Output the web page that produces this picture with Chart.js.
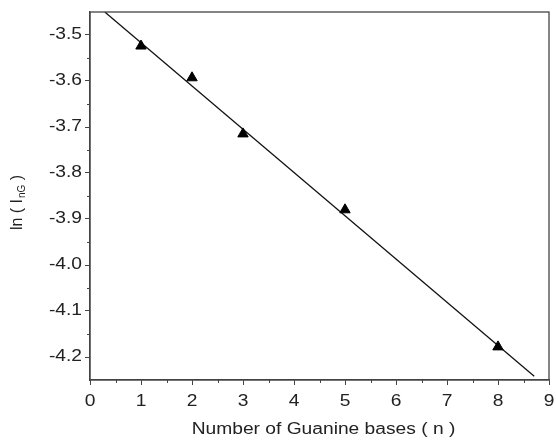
<!DOCTYPE html>
<html>
<head>
<meta charset="utf-8">
<script src="https://cdn.jsdelivr.net/npm/chart.js@4.4.0/dist/chart.umd.min.js"></script>
<style>
  html, body { margin: 0; padding: 0; background: #fff; }
  #wrap { width: 556px; height: 441px; }
</style>
</head>
<body>
<div id="wrap"><canvas id="chart" width="556" height="441"></canvas></div>
<script>
// measured points: number of G bases vs ln(I_nG)
const nBases = [1, 2, 3, 5, 8];
const lnI = [-3.524, -3.593, -3.715, -3.88, -4.178];

// linear fit line, ends
const fitX = [0.29, 8.71];
const fitY = [-3.45, -4.242];

const xTicks = [0, 1, 2, 3, 4, 5, 6, 7, 8, 9];
const yTicks = [-4.2, -4.1, -4.0, -3.9, -3.8, -3.7, -3.6, -3.5];

const FONT = '"Liberation Sans", Arial, sans-serif';
const INK = '#222';
const SX = 1.2; // the original figure is a bit stretched sideways

// draws text squeezed/stretched horizontally around its anchor
function wideText(ctx, txt, x, y, align) {
    const w = ctx.measureText(txt).width * SX;
    let left = x;
    if (align === 'center') left = x - w / 2;
    if (align === 'right') left = x - w;
    ctx.save();
    ctx.translate(left, y);
    ctx.scale(SX, 1);
    ctx.textAlign = 'left';
    ctx.fillText(txt, 0, 0);
    ctx.restore();
}

// frame, minor ticks, tick labels and axis titles
const framePlugin = {
    id: 'frame',
    afterDraw(chart) {
        const ctx = chart.ctx;
        const a = chart.chartArea;
        const xs = chart.scales.x, ys = chart.scales.y;
        ctx.save();
        ctx.strokeStyle = '#444';
        ctx.lineWidth = 1.3;
        ctx.strokeRect(a.left, a.top, a.right - a.left, a.bottom - a.top);

        // minor ticks halfway between majors
        ctx.lineWidth = 1;
        ctx.beginPath();
        for (let i = 0; i < xTicks.length - 1; i++) {
            const px = Math.round(xs.getPixelForValue((xTicks[i] + xTicks[i + 1]) / 2)) + 0.5;
            ctx.moveTo(px, a.bottom);
            ctx.lineTo(px, a.bottom + 3);
        }
        for (let i = 0; i < yTicks.length - 1; i++) {
            const py = Math.round(ys.getPixelForValue((yTicks[i] + yTicks[i + 1]) / 2)) + 0.5;
            ctx.moveTo(a.left, py);
            ctx.lineTo(a.left - 3, py);
        }
        ctx.stroke();

        // tick labels
        ctx.fillStyle = INK;
        ctx.font = '16px ' + FONT;
        ctx.textBaseline = 'middle';
        xTicks.forEach(v => wideText(ctx, String(v), xs.getPixelForValue(v), a.bottom + 22, 'center'));
        yTicks.forEach(v => wideText(ctx, v.toFixed(1), a.left - 8, ys.getPixelForValue(v), 'right'));

        // x title
        wideText(ctx, 'Number of Guanine bases ( n )', (a.left + a.right) / 2 + 4, 430, 'center');

        // y title with subscript
        ctx.translate(18, 203);
        ctx.rotate(-Math.PI / 2);
        ctx.textAlign = 'left';
        const p1 = 'ln ( I', sub = 'nG', p2 = ' )';
        ctx.font = '16px ' + FONT;
        const w1 = ctx.measureText(p1).width;
        const w3 = ctx.measureText(p2).width;
        ctx.font = '10px ' + FONT;
        const w2 = ctx.measureText(sub).width;
        let x0 = -(w1 + w2 + w3) / 2;
        ctx.font = '16px ' + FONT;
        ctx.fillText(p1, x0, 0);
        ctx.font = '10px ' + FONT;
        ctx.fillText(sub, x0 + w1 + 1, 4);
        ctx.font = '16px ' + FONT;
        ctx.fillText(p2, x0 + w1 + w2 + 1, 0);
        ctx.restore();
    }
};

new Chart(document.getElementById('chart'), {
    type: 'scatter',
    data: {
        datasets: [
            {
                label: 'fit',
                data: fitX.map((x, i) => ({ x: x, y: fitY[i] })),
                showLine: true,
                borderColor: '#111',
                borderWidth: 1.3,
                pointRadius: 0,
                order: 2
            },
            {
                label: 'ln(I)',
                data: nBases.map((x, i) => ({ x: x, y: lnI[i] })),
                pointStyle: 'triangle',
                pointRadius: 6,
                backgroundColor: '#000',
                borderColor: '#000',
                borderWidth: 1,
                order: 1
            }
        ]
    },
    options: {
        responsive: false,
        animation: false,
        layout: { padding: { top: 12, right: 7, left: 0, bottom: 0 } },
        plugins: {
            legend: { display: false },
            tooltip: { enabled: false }
        },
        scales: {
            x: {
                type: 'linear',
                min: 0,
                max: 9,
                afterBuildTicks: s => { s.ticks = xTicks.map(v => ({ value: v })); },
                afterFit: s => { s.height = 61; },
                border: { display: true, color: '#444', width: 1.3 },
                grid: { drawOnChartArea: false, tickLength: 5, tickColor: '#444' },
                ticks: { display: false }
            },
            y: {
                type: 'linear',
                min: -4.25,
                max: -3.45,
                afterBuildTicks: s => { s.ticks = yTicks.map(v => ({ value: v })); },
                afterFit: s => { s.width = 90; },
                border: { display: true, color: '#444', width: 1.3 },
                grid: { drawOnChartArea: false, tickLength: 5, tickColor: '#444' },
                ticks: { display: false }
            }
        }
    },
    plugins: [framePlugin]
});
</script>
</body>
</html>
